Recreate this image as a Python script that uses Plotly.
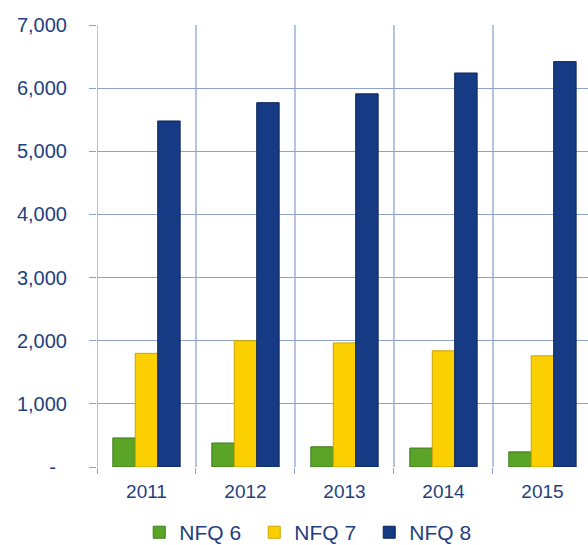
import plotly.graph_objects as go

years = ["2011", "2012", "2013", "2014", "2015"]
nfq6 = [460, 380, 320, 300, 240]
nfq7 = [1800, 2000, 1965, 1840, 1760]
nfq8 = [5480, 5770, 5910, 6240, 6420]

tick_vals = [0, 1000, 2000, 3000, 4000, 5000, 6000, 7000]
tick_text = ["-\u00a0\u00a0", "1,000", "2,000", "3,000", "4,000", "5,000", "6,000", "7,000"]

text_col = "#1f3f80"
grid_col = "#8fa3c9"
font = "Liberation Sans"

fig = go.Figure()
fig.add_trace(go.Bar(name="NFQ 6", x=years, y=nfq6,
                     marker=dict(color="#5aa427", line=dict(color="#3f7a1c", width=1))))
fig.add_trace(go.Bar(name="NFQ 7", x=years, y=nfq7,
                     marker=dict(color="#fcd000", line=dict(color="#c9a400", width=1))))
fig.add_trace(go.Bar(name="NFQ 8", x=years, y=nfq8,
                     marker=dict(color="#173a85", line=dict(color="#0e2658", width=1))))

fig.update_layout(
    width=588, height=545,
    margin=dict(l=97, r=0, t=25, b=78, autoexpand=False),
    paper_bgcolor="white", plot_bgcolor="white",
    barmode="group", bargap=0.32, bargroupgap=0,
    font=dict(family=font, color=text_col, size=19),
    showlegend=True,
    legend=dict(orientation="h", x=0.086, xanchor="left", y=-0.102, yanchor="top",
                font=dict(size=21, color=text_col), itemwidth=30,
                entrywidth=70, entrywidthmode="pixels",
                traceorder="normal"),
)
fig.update_xaxes(
    type="category", range=[-0.5, 4.46], automargin=False,
    showgrid=False, showline=False, zeroline=False,
    ticks="outside", ticklen=6, tickcolor=grid_col, tickson="boundaries",
    tickfont=dict(size=19, color=text_col), ticklabelstandoff=11,
)
# vertical gridlines at category boundaries
for i in range(len(years) + 1):
    fig.add_shape(type="line", xref="x", yref="paper", x0=i - 0.5, x1=i - 0.5, y0=0, y1=1,
                  line=dict(color=grid_col, width=1.3), layer="below")
fig.update_yaxes(
    range=[0, 7000], tickvals=tick_vals, ticktext=tick_text, automargin=False,
    showgrid=True, gridcolor=grid_col, gridwidth=1.3,
    zeroline=False, showline=False,
    ticks="outside", ticklen=7, tickcolor=grid_col,
    tickfont=dict(size=20, color=text_col), ticklabelstandoff=18,
)

fig.write_html("out.html", config={"displayModeBar": False},
               post_script="document.body.style.margin='0';document.body.style.overflow='hidden';")
